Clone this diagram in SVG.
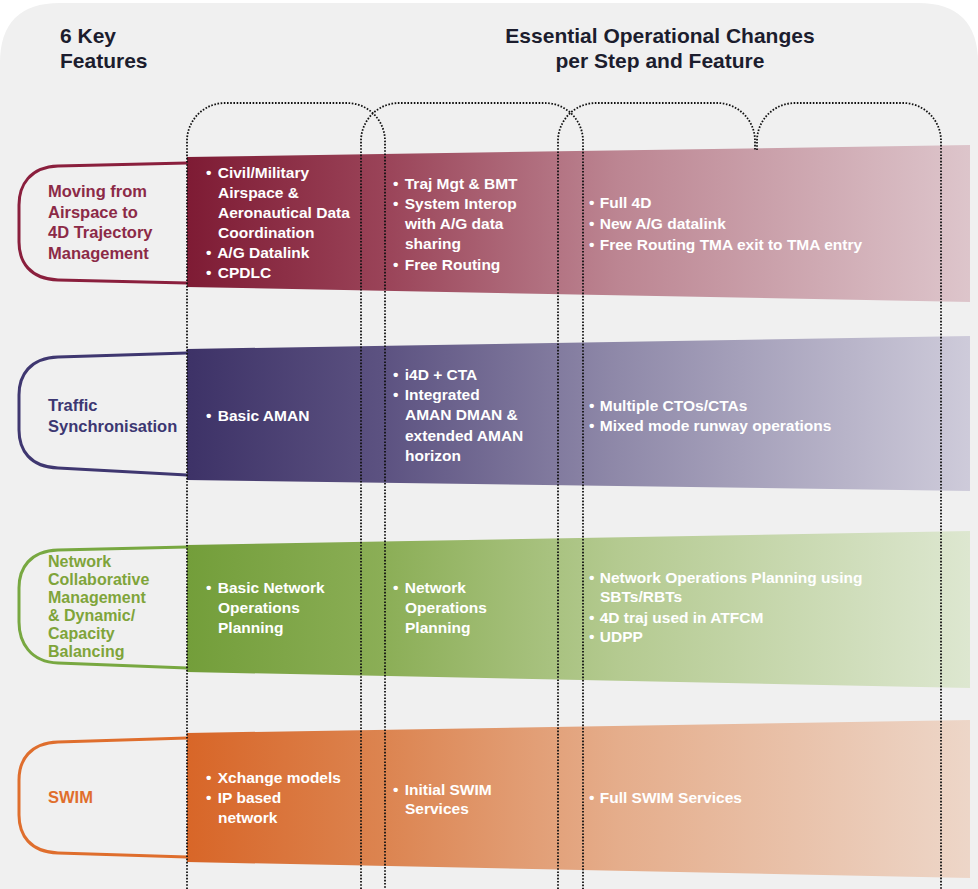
<svg xmlns="http://www.w3.org/2000/svg" width="978" height="889" viewBox="0 0 978 889">
<defs>
<linearGradient id="g1" gradientUnits="userSpaceOnUse" x1="187" y1="0" x2="970" y2="0">
<stop offset="0" stop-color="#7e1b34"/><stop offset="0.25" stop-color="#9a4358"/><stop offset="0.55" stop-color="#bc8592"/><stop offset="1" stop-color="#ddc5cb"/>
</linearGradient>
<linearGradient id="g2" gradientUnits="userSpaceOnUse" x1="187" y1="0" x2="970" y2="0">
<stop offset="0" stop-color="#3d3267"/><stop offset="0.25" stop-color="#5c5281"/><stop offset="0.55" stop-color="#8f89a9"/><stop offset="1" stop-color="#cecbda"/>
</linearGradient>
<linearGradient id="g3" gradientUnits="userSpaceOnUse" x1="187" y1="0" x2="970" y2="0">
<stop offset="0" stop-color="#739e3a"/><stop offset="0.25" stop-color="#8bae56"/><stop offset="0.55" stop-color="#b4ca90"/><stop offset="1" stop-color="#dde7d0"/>
</linearGradient>
<linearGradient id="g4" gradientUnits="userSpaceOnUse" x1="187" y1="0" x2="970" y2="0">
<stop offset="0" stop-color="#d86628"/><stop offset="0.25" stop-color="#dc8450"/><stop offset="0.55" stop-color="#e5ad8b"/><stop offset="1" stop-color="#edd6c8"/>
</linearGradient>
</defs>
<style>
text{font-family:"Liberation Sans",Arial,sans-serif;font-weight:bold}
.hd{font-size:21px;fill:#1c1d2e}
.lb{font-size:16.5px}
.ct{font-size:15.5px;fill:#ffffff}
.ol{fill:none;stroke-width:3}
.col{fill:none;stroke:#111111;stroke-width:1.8;stroke-dasharray:1.6 1.6}
</style>
<rect width="978" height="889" fill="#ffffff"/>
<path d="M0,889 V63 Q0,3 60,3 H918 Q978,3 978,63 V889 Z" fill="#f0f0f0"/>

<g id="header">
<text class="hd" x="60" y="43">6 Key</text>
<text class="hd" x="60" y="68">Features</text>
<text class="hd" x="660" y="43" text-anchor="middle">Essential Operational Changes</text>
<text class="hd" x="660" y="68" text-anchor="middle">per Step and Feature</text>
</g>

<g id="row1">
<path d="M187,157 L970,145 L970,302 L187,287 Z" fill="url(#g1)"/>
<path class="ol" stroke="#8a1f3d" d="M187,163 L58,166 C30,167 19,185 19,205 L19,242 C19,262 30,279 58,280 L187,283"/>
<g fill="#8c2a47"><text class="lb" x="48" y="197">Moving from</text><text class="lb" x="48" y="218">Airspace to</text><text class="lb" x="48" y="238">4D Trajectory</text><text class="lb" x="48" y="259">Management</text></g>
<text class="ct" x="206" y="178">•<tspan dx="2"> Civil/Military</tspan></text>
<text class="ct" x="218" y="198">Airspace &amp;</text>
<text class="ct" x="218" y="218">Aeronautical Data</text>
<text class="ct" x="218" y="238">Coordination</text>
<text class="ct" x="206" y="258">•<tspan dx="2"> A/G Datalink</tspan></text>
<text class="ct" x="206" y="278">•<tspan dx="2"> CPDLC</tspan></text>
<text class="ct" x="393" y="189">•<tspan dx="2"> Traj Mgt &amp; BMT</tspan></text>
<text class="ct" x="393" y="209">•<tspan dx="2"> System Interop</tspan></text>
<text class="ct" x="405" y="229">with A/G data</text>
<text class="ct" x="405" y="249">sharing</text>
<text class="ct" x="393" y="270">•<tspan dx="2"> Free Routing</tspan></text>
<text class="ct" x="589" y="208">•<tspan dx="1"> Full 4D</tspan></text>
<text class="ct" x="589" y="229">•<tspan dx="1"> New A/G datalink</tspan></text>
<text class="ct" x="589" y="250">•<tspan dx="1"> Free Routing TMA exit to TMA entry</tspan></text>
</g>

<g id="row2">
<path d="M187,349 L970,336 L970,491 L187,480 Z" fill="url(#g2)"/>
<path class="ol" stroke="#3f3770" d="M187,353 L58,357 C30,358 19,375 19,395 L19,430 C19,450 30,467 58,468 L187,475"/>
<g fill="#3c3772"><text class="lb" x="48" y="411">Traffic</text><text class="lb" x="48" y="432">Synchronisation</text></g>
<text class="ct" x="206" y="421">•<tspan dx="2"> Basic AMAN</tspan></text>
<text class="ct" x="393" y="380">•<tspan dx="2"> i4D + CTA</tspan></text>
<text class="ct" x="393" y="400">•<tspan dx="2"> Integrated</tspan></text>
<text class="ct" x="405" y="420">AMAN DMAN &amp;</text>
<text class="ct" x="405" y="441">extended AMAN</text>
<text class="ct" x="405" y="461">horizon</text>
<text class="ct" x="589" y="411">•<tspan dx="1"> Multiple CTOs/CTAs</tspan></text>
<text class="ct" x="589" y="431">•<tspan dx="1"> Mixed mode runway operations</tspan></text>
</g>

<g id="row3">
<path d="M187,545 L970,531 L970,688 L187,672 Z" fill="url(#g3)"/>
<path class="ol" stroke="#78a841" d="M187,547 L58,550 C30,551 19,568 19,588 L19,622 C19,642 30,662 58,663 L187,668"/>
<g fill="#7fa43a"><text class="lb" x="48" y="567" style="font-size:16px">Network</text><text class="lb" x="48" y="585" style="font-size:16px">Collaborative</text><text class="lb" x="48" y="603" style="font-size:16px">Management</text><text class="lb" x="48" y="621" style="font-size:16px">&amp; Dynamic/</text><text class="lb" x="48" y="639" style="font-size:16px">Capacity</text><text class="lb" x="48" y="657" style="font-size:16px">Balancing</text></g>
<text class="ct" x="206" y="593">•<tspan dx="2"> Basic Network</tspan></text>
<text class="ct" x="218" y="613">Operations</text>
<text class="ct" x="218" y="633">Planning</text>
<text class="ct" x="393" y="593">•<tspan dx="2"> Network</tspan></text>
<text class="ct" x="405" y="613">Operations</text>
<text class="ct" x="405" y="633">Planning</text>
<text class="ct" x="589" y="583">•<tspan dx="1"> Network Operations Planning using</tspan></text>
<text class="ct" x="600" y="602">SBTs/RBTs</text>
<text class="ct" x="589" y="623">•<tspan dx="1"> 4D traj used in ATFCM</tspan></text>
<text class="ct" x="589" y="642">•<tspan dx="1"> UDPP</tspan></text>
</g>

<g id="row4">
<path d="M187,733 L970,720 L970,878 L187,862 Z" fill="url(#g4)"/>
<path class="ol" stroke="#df6e2d" d="M187,738 L58,742 C30,743 19,760 19,780 L19,815 C19,835 30,852 58,853 L187,857"/>
<text class="lb" x="48" y="803" fill="#e06e2c">SWIM</text>
<text class="ct" x="206" y="783">•<tspan dx="2"> Xchange models</tspan></text>
<text class="ct" x="206" y="803">•<tspan dx="2"> IP based</tspan></text>
<text class="ct" x="218" y="823">network</text>
<text class="ct" x="393" y="795">•<tspan dx="2"> Initial SWIM</tspan></text>
<text class="ct" x="405" y="814">Services</text>
<text class="ct" x="589" y="803">•<tspan dx="1"> Full SWIM Services</tspan></text>
</g>

<g id="connectors">
<path class="col" d="M187,889 V141 A38,38 0 0 1 225,103 H347 A38,38 0 0 1 385,141 V889"/>
<path class="col" d="M361,889 V141 A38,38 0 0 1 399,103 H545 A38,38 0 0 1 583,141 V889"/>
<path class="col" d="M558,889 V141 A38,38 0 0 1 596,103 H717 A38,38 0 0 1 755,141 V150"/>
<path class="col" d="M757,150 V141 A38,38 0 0 1 795,103 H903 A38,38 0 0 1 941,141 V889"/>
</g>
</svg>
